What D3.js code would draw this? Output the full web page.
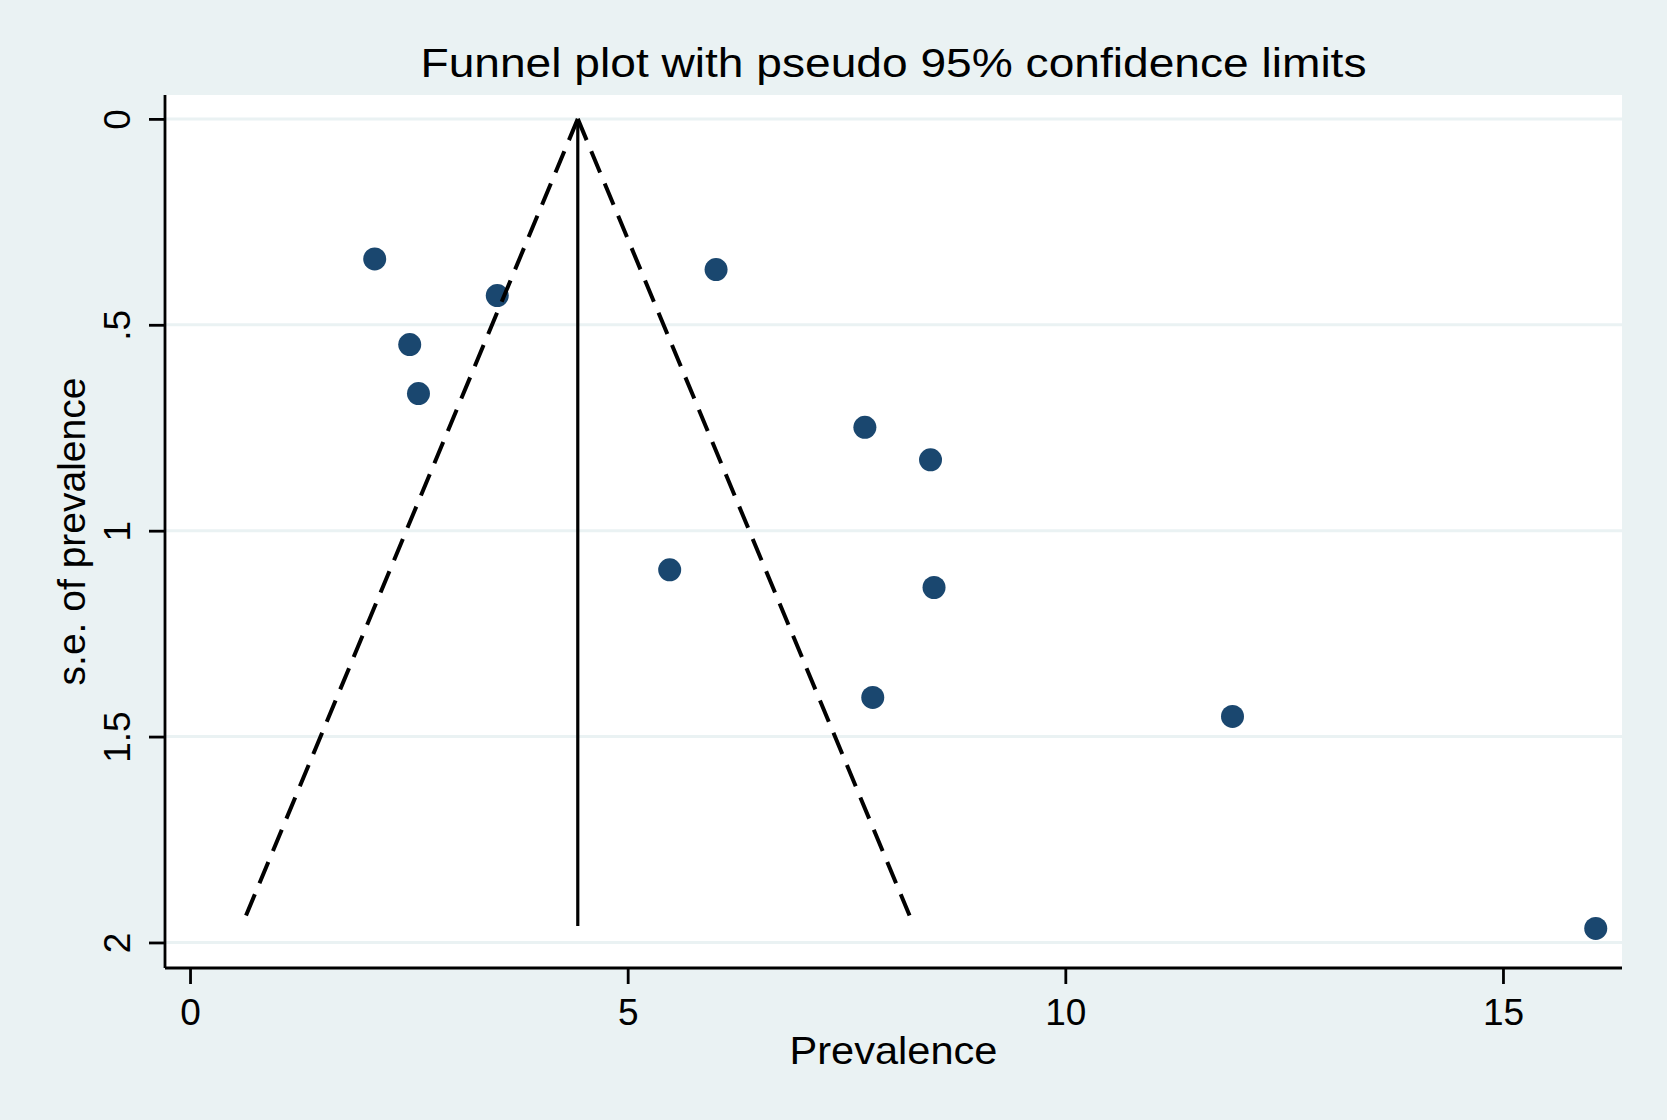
<!DOCTYPE html>
<html>
<head>
<meta charset="utf-8">
<script src="https://cdn.jsdelivr.net/npm/d3@7/dist/d3.min.js"></script>
<style>
  html, body { margin: 0; padding: 0; background: #eaf2f3; }
  svg { display: block; }
  text { font-family: "Liberation Sans", Arial, Helvetica, sans-serif; fill: #000; }
</style>
</head>
<body>
<svg id="chart" width="1667" height="1120"></svg>
<script>
// ---- data ----
const prevalence = [2.11, 3.51, 6.01, 2.51, 2.61, 7.71, 8.46, 5.48, 8.50, 7.80, 11.91, 16.06];
const sePrevalence = [0.340, 0.429, 0.366, 0.548, 0.667, 0.749, 0.828, 1.095, 1.138, 1.405, 1.451, 1.966];
const pooledLine = [[4.43, 0], [4.43, 1.96]];
const lowerLimit = [[4.43, 0], [0.59, 1.96]];
const upperLimit = [[4.43, 0], [8.27, 1.96]];
const xTicks = [0, 5, 10, 15];
const xTickLabels = ["0", "5", "10", "15"];
const yTicks = [0, 0.5, 1, 1.5, 2];
const yTickLabels = ["0", ".5", "1", "1.5", "2"];
const titleText = "Funnel plot with pseudo 95% confidence limits";
const xTitle = "Prevalence";
const yTitle = "s.e. of prevalence";

// ---- layout ----
const W = 1667, H = 1120;
const plot = { left: 165, right: 1622, top: 95, bottom: 968 };

const svg = d3.select("#chart");

svg.append("rect").attr("x", 0).attr("y", 0).attr("width", W).attr("height", H).attr("fill", "#eaf2f3");
svg.append("rect")
  .attr("x", plot.left).attr("y", plot.top)
  .attr("width", plot.right - plot.left).attr("height", plot.bottom - plot.top)
  .attr("fill", "#ffffff");

const x = d3.scaleLinear().domain([-0.286, 16.36]).range([plot.left, plot.right]);
const y = d3.scaleLinear().domain([-0.058, 2.062]).range([plot.top, plot.bottom]);

// grid lines
svg.append("g").selectAll("line").data(yTicks).join("line")
  .attr("x1", plot.left).attr("x2", plot.right)
  .attr("y1", d => y(d)).attr("y2", d => y(d))
  .attr("stroke", "#eaf2f3").attr("stroke-width", 3);

// points
svg.append("g").selectAll("circle").data(prevalence.map((p, i) => [p, sePrevalence[i]])).join("circle")
  .attr("cx", d => x(d[0])).attr("cy", d => y(d[1]))
  .attr("r", 11.5).attr("fill", "#1a476f");

// funnel lines
const line = d3.line().x(d => x(d[0])).y(d => y(d[1]));
svg.append("path").attr("d", line(pooledLine))
  .attr("fill", "none").attr("stroke", "#000").attr("stroke-width", 3.2);
[lowerLimit, upperLimit].forEach(l => {
  svg.append("path").attr("d", line(l))
    .attr("fill", "none").attr("stroke", "#000").attr("stroke-width", 4)
    .attr("stroke-dasharray", "23,12");
});

// axes
const xAxis = d3.axisBottom(x).tickValues(xTicks).tickSize(16).tickPadding(14)
  .tickFormat((d, i) => xTickLabels[i]);
const gx = svg.append("g").attr("transform", `translate(0,${plot.bottom})`).call(xAxis);
gx.select(".domain").attr("d", `M${plot.left},0H${plot.right}`).attr("stroke-width", 2.8);
gx.selectAll(".tick line").attr("stroke-width", 2.8);
gx.selectAll(".tick text").attr("font-size", 37).attr("font-family", '"Liberation Sans", Arial, sans-serif')
  .attr("dy", null).attr("y", 57);

const yAxis = d3.axisLeft(y).tickValues(yTicks).tickSize(16)
  .tickFormat((d, i) => yTickLabels[i]);
const gy = svg.append("g").attr("transform", `translate(${plot.left},0)`).call(yAxis);
gy.select(".domain").attr("d", `M0,${plot.top}V${plot.bottom}`).attr("stroke-width", 2.8);
gy.selectAll(".tick line").attr("stroke-width", 2.8);
gy.selectAll(".tick text")
  .attr("font-size", 37).attr("font-family", '"Liberation Sans", Arial, sans-serif')
  .attr("x", null).attr("dy", null)
  .attr("text-anchor", "middle")
  .attr("transform", "translate(-35,0) rotate(-90)");

// titles
svg.append("text").attr("x", (plot.left + plot.right) / 2).attr("y", 77)
  .attr("text-anchor", "middle").attr("font-size", 41)
  .attr("textLength", 946).attr("lengthAdjust", "spacingAndGlyphs")
  .text(titleText);

svg.append("text").attr("x", (plot.left + plot.right) / 2).attr("y", 1064)
  .attr("text-anchor", "middle").attr("font-size", 39)
  .attr("textLength", 208).attr("lengthAdjust", "spacingAndGlyphs")
  .text(xTitle);

svg.append("text")
  .attr("transform", `translate(85,${(plot.top + plot.bottom) / 2}) rotate(-90)`)
  .attr("text-anchor", "middle").attr("font-size", 39)
  .text(yTitle);
</script>
</body>
</html>
